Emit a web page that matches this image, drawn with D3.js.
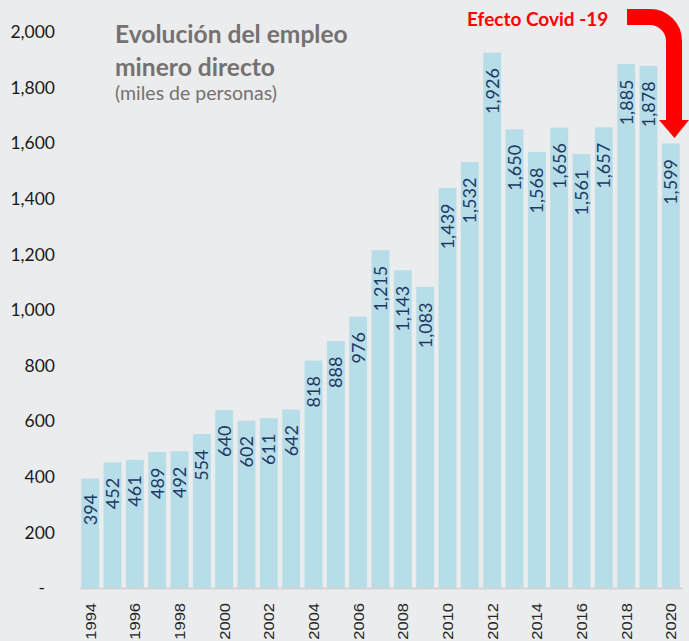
<!DOCTYPE html>
<html>
<head>
<meta charset="utf-8">
<script src="https://cdn.jsdelivr.net/npm/d3@7"></script>
<style>
  body { margin: 0; background: #ebeced; }
  svg { display: block; }
</style>
</head>
<body>
<svg id="chart"></svg>
<script>
//Data
var years = [1994, 1995, 1996, 1997, 1998, 1999, 2000, 2001, 2002, 2003, 2004, 2005, 2006, 2007,
             2008, 2009, 2010, 2011, 2012, 2013, 2014, 2015, 2016, 2017, 2018, 2019, 2020];
var employment = [394, 452, 461, 489, 492, 554, 640, 602, 611, 642, 818, 888, 976, 1215,
                  1143, 1083, 1439, 1532, 1926, 1650, 1568, 1656, 1561, 1657, 1885, 1878, 1599];
var yTicks = [0, 200, 400, 600, 800, 1000, 1200, 1400, 1600, 1800, 2000];
var xTickYears = years.filter(function(y){ return y % 2 === 0; });

var dataset = years.map(function(y, i){ return { year: y, value: employment[i] }; });

//Dimensions
var dimensions = {
    width: 689,
    height: 641,
    margin: { top: 32, bottom: 53, left: 79, right: 7 }
};

var svg = d3.select("#chart")
            .attr("width", dimensions.width)
            .attr("height", dimensions.height);

svg.append("rect")
   .attr("width", dimensions.width)
   .attr("height", dimensions.height)
   .attr("fill", "#ebeced");

//Scales
var xScale = d3.scaleBand()
               .domain(years)
               .range([dimensions.margin.left, dimensions.width - dimensions.margin.right])
               .paddingInner(0.2)
               .paddingOuter(0.1);

var yScale = d3.scaleLinear()
               .domain([0, 2000])
               .range([dimensions.height - dimensions.margin.bottom, dimensions.margin.top]);

//Bars
svg.append("g")
   .selectAll("rect")
   .data(dataset)
   .enter()
   .append("rect")
   .attr("x", function(d){ return xScale(d.year); })
   .attr("y", function(d){ return yScale(d.value); })
   .attr("width", xScale.bandwidth())
   .attr("height", function(d){ return yScale(0) - yScale(d.value); })
   .attr("fill", "#b7dde8");

//Value labels
svg.append("g")
   .selectAll("text")
   .data(dataset)
   .enter()
   .append("text")
   .attr("transform", function(d){
       return "translate(" + (xScale(d.year) + xScale.bandwidth() / 2) + "," + (yScale(d.value) + 15.5) + ") rotate(-90)";
   })
   .attr("dy", "0.36em")
   .attr("text-anchor", "end")
   .style("font-family", "Lato, 'Open Sans', sans-serif")
   .style("font-size", "18px")
   .style("fill", "#203864")
   .text(function(d){ return d3.format(",")(d.value); });

//X-axis
var xAxis = svg.append("g")
               .attr("transform", "translate(0," + yScale(0) + ")")
               .call(d3.axisBottom(xScale).tickValues(xTickYears).tickSize(0).tickSizeOuter(0));
xAxis.select(".domain").attr("stroke", "#d2d3d4").attr("stroke-width", 2);
xAxis.selectAll("text")
     .attr("transform", "rotate(-90) scale(1,0.9)")
     .attr("x", -15)
     .attr("y", 0)
     .attr("dy", "0.36em")
     .attr("text-anchor", "end")
     .style("font-family", "'Liberation Sans', Arial, sans-serif")
     .style("font-size", "16.5px")
     .style("fill", "#262626");

//Y-axis
var yAxis = svg.append("g")
               .attr("transform", "translate(55,0)")
               .call(d3.axisLeft(yScale).tickValues(yTicks).tickSize(0)
                       .tickFormat(function(d){ return d === 0 ? "-" : d3.format(",")(d); }));
yAxis.select(".domain").remove();
yAxis.selectAll("text")
     .attr("x", function(d){ return d === 0 ? -10 : 0; })
     .style("font-family", "Lato, 'Open Sans', sans-serif")
     .style("font-size", "17.5px")
     .style("fill", "#1a1a1a");

//Title
var title = svg.append("g").style("font-family", "Lato, 'Open Sans', sans-serif").style("fill", "#767171");
title.append("text")
     .attr("x", 115).attr("y", 43)
     .style("font-size", "24.6px").style("font-weight", "bold")
     .text("Evolución del empleo");
title.append("text")
     .attr("x", 115).attr("y", 76)
     .style("font-size", "24.6px").style("font-weight", "bold")
     .text("minero directo");
title.append("text")
     .attr("x", 115).attr("y", 100)
     .style("font-size", "19.5px")
     .text("(miles de personas)");

//Covid annotation
svg.append("text")
   .attr("x", 467).attr("y", 26)
   .style("font-family", "Lato, 'Open Sans', sans-serif")
   .style("font-size", "19px")
   .style("font-weight", "bold")
   .style("fill", "#ff0000")
   .text("Efecto Covid -19");

svg.append("path")
   .attr("d", "M627,17 H650 A24,24 0 0 1 674,41 V121")
   .attr("fill", "none")
   .attr("stroke", "#ff0000")
   .attr("stroke-width", 16);

svg.append("path")
   .attr("d", "M659,120 L689,120 L674.5,138 Z")
   .attr("fill", "#ff0000");
</script>
</body>
</html>
